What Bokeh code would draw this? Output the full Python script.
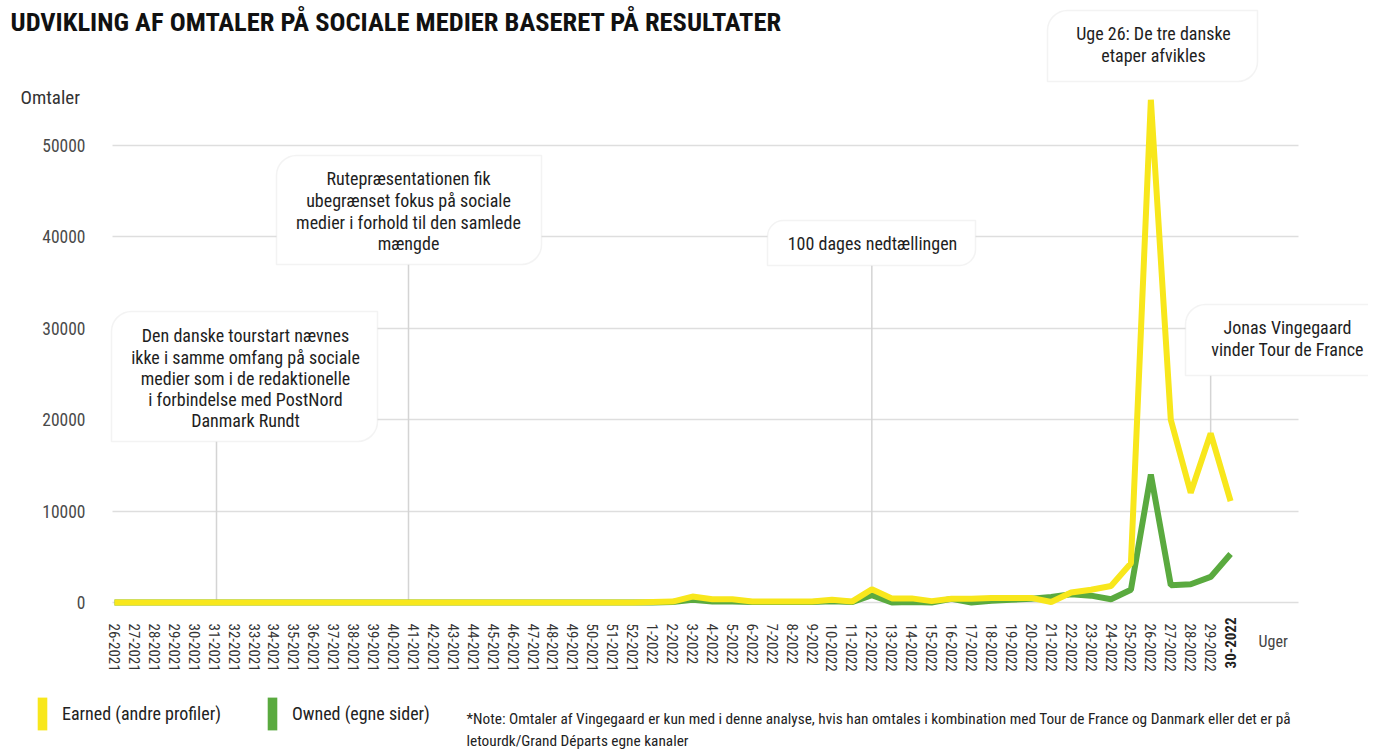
import math
from bokeh.plotting import figure
from bokeh.models import (FixedTicker, BoxAnnotation, Label, Legend, LegendItem, Range1d,
                          ColumnDataSource)
from bokeh.embed import file_html
from bokeh.resources import INLINE

# ---------------- data ----------------
weeks = ["26-2021", "27-2021", "28-2021", "29-2021", "30-2021", "31-2021", "32-2021",
         "33-2021", "34-2021", "35-2021", "36-2021", "37-2021", "38-2021", "39-2021",
         "40-2021", "41-2021", "42-2021", "43-2021", "44-2021", "45-2021", "46-2021",
         "47-2021", "48-2021", "49-2021", "50-2021", "51-2021", "52-2021",
         "1-2022", "2-2022", "3-2022", "4-2022", "5-2022", "6-2022", "7-2022", "8-2022",
         "9-2022", "10-2022", "11-2022", "12-2022", "13-2022", "14-2022", "15-2022",
         "16-2022", "17-2022", "18-2022", "19-2022", "20-2022", "21-2022", "22-2022",
         "23-2022", "24-2022", "25-2022", "26-2022", "27-2022", "28-2022", "29-2022",
         "30-2022"]

earned = [0, 0, 0, 0, 0, 0, 0, 0, 0, 0, 0, 0, 0, 0, 0, 0, 0, 0, 0, 0, 0, 0, 0, 0, 0, 0, 0,
          50, 100, 650, 350, 350, 100, 100, 100, 100, 300, 100, 1450, 450, 450, 150,
          400, 400, 500, 500, 500, 50, 1100, 1400, 1800, 4300, 55000, 20000, 12000,
          18500, 11100]

owned = [0, 0, 0, 0, 0, 0, 0, 0, 0, 0, 0, 0, 0, 0, 0, 0, 0, 0, 0, 0, 0, 0, 0, 0, 0, 0, 0,
         0, 50, 300, 100, 100, 50, 50, 50, 50, 150, 50, 800, 0, 50, 0,
         400, 0, 200, 300, 400, 600, 900, 750, 350, 1400, 14000, 1900, 2000,
         2800, 5300]

y_ticks = [0, 10000, 20000, 30000, 40000, 50000]

series_names = ["Earned (andre profiler)", "Owned (egne sider)"]
title_text = "UDVIKLING AF OMTALER PÅ SOCIALE MEDIER BASERET PÅ RESULTATER"
y_title = "Omtaler"
x_title = "Uger"
note_lines = ["*Note: Omtaler af Vingegaard er kun med i denne analyse, hvis han omtales i kombination med Tour de France og Danmark eller det er på",
              "letourdk/Grand Départs egne kanaler"]

callouts = [
    # (text lines, week the pointer refers to or None)
    (["Den danske tourstart nævnes", "ikke i samme omfang på sociale",
      "medier som i de redaktionelle", "i forbindelse med PostNord", "Danmark Rundt"], "31-2021"),
    (["Rutepræsentationen fik", "ubegrænset fokus på sociale",
      "medier i forhold til den samlede", "mængde"], "41-2021"),
    (["100 dages nedtællingen"], "12-2022"),
    (["Uge 26: De tre danske", "etaper afvikles"], None),
    (["Jonas Vingegaard", "vinder Tour de France"], "29-2022"),
]

# ---------------- styling / layout ----------------
YELLOW = "#f8e71c"
GREEN = "#5aaa3f"
FONT = "Liberation Sans Narrow, Roboto Condensed, Roboto"
TXT = "#1e1e1e"

W, H = 1368, 749
PX_PER_CAT = 19.93
X0_PX = 114.0          # canvas px of first week
PX_PER_Y = 457.0 / 50000.0
ZERO_PX = 602.0        # canvas px of y = 0

def X(px):   # canvas px -> data x
    return (px - X0_PX) / PX_PER_CAT

def Y(py):   # canvas px -> data y
    return (ZERO_PX - py) / PX_PER_Y

p = figure(width=W, height=H, output_backend="svg", toolbar_location=None,
           x_range=Range1d(X(0), X(W)), y_range=Range1d(Y(H), Y(0)),
           min_border_left=0, min_border_right=0, min_border_top=0, min_border_bottom=0)
p.outline_line_color = None
p.background_fill_color = "white"
p.border_fill_color = "white"

# axes (drawn inside the canvas with negative standoff)
xi = list(range(len(weeks)))
last = len(weeks) - 1
p.xaxis.ticker = FixedTicker(ticks=xi)
p.xaxis.major_label_overrides = {i: (w if i != last else "") for i, w in zip(xi, weeks)}
p.xaxis.major_label_orientation = "vertical"
p.xaxis.major_label_text_font = FONT
p.xaxis.major_label_text_font_size = "15px"
p.xaxis.major_label_text_color = "#333333"
p.xaxis.major_label_standoff = int(617 - H)
p.xaxis.axis_line_color = None
p.xaxis.major_tick_line_color = None
p.xaxis.minor_tick_line_color = None
# the last week label is bold in the original
p.add_layout(Label(x=last, y=Y(617), text=weeks[last], angle=math.pi / 2,
                   text_align="right", text_baseline="middle", text_font=FONT,
                   text_font_style="bold", text_font_size="15px", text_color="#222222"))

p.yaxis.ticker = FixedTicker(ticks=y_ticks)
p.yaxis.major_label_text_font = FONT
p.yaxis.major_label_text_font_size = "17.5px"
p.yaxis.major_label_text_color = "#4a4a4a"
p.yaxis.major_label_standoff = -91
p.yaxis.axis_line_color = None
p.yaxis.major_tick_line_color = None
p.yaxis.minor_tick_line_color = None

p.xgrid.grid_line_color = None
grid = p.ygrid[0]
grid.grid_line_color = "#dedede"
grid.grid_line_width = 1.5
try:
    grid.cross_bounds = (X(112), X(1298))
except Exception:
    pass

# callout pointers (behind data)
boxes_px = [  # canvas px boxes: left, right, top, bottom
    (111, 377, 311, 441),
    (276, 541, 155, 264),
    (767, 975, 220, 265),
    (1047, 1257, 10, 81),
    (1185, 1400, 304, 375),
]
pointer_px = {0: 216, 1: 408}
pt_x0, pt_y0, pt_x1, pt_y1 = [], [], [], []
for k, (lines, wk) in enumerate(callouts):
    if wk is None:
        continue
    l, r, t, b = boxes_px[k]
    i = weeks.index(wk)
    if k in pointer_px:
        xx, ytarget = X(pointer_px[k]), 0
    else:
        xx, ytarget = i, earned[i]
    pt_x0.append(xx); pt_x1.append(xx)
    pt_y0.append(Y(b)); pt_y1.append(ytarget)
p.segment(x0=pt_x0, y0=pt_y0, x1=pt_x1, y1=pt_y1, line_color="#d4d4d4", line_width=1.5)

# data lines
src = ColumnDataSource(dict(x=xi, earned=earned, owned=owned))
p.line("x", "owned", source=src, line_color=GREEN, line_width=6, line_join="bevel")
p.line("x", "earned", source=src, line_color=YELLOW, line_width=6, line_join="bevel")

# callout boxes and texts
text_centers = [(245, [335, 357, 378, 399, 420]),
                (408, [178, 200, 222, 243]),
                (872, [243]),
                (1153, [33, 55]),
                (1287, [327, 349])]
for k, (lines, wk) in enumerate(callouts):
    l, r, t, b = boxes_px[k]
    rad = 20 if (b - t) > 60 else 16
    p.add_layout(BoxAnnotation(left=X(l), right=X(r), top=Y(t), bottom=Y(b),
                               fill_color="white", fill_alpha=1.0,
                               line_color="#d6d6d6", line_width=1.5,
                               border_radius=dict(top_left=rad, top_right=0,
                                                  bottom_right=rad, bottom_left=0),
                               level="overlay"))
    cx, ys = text_centers[k]
    for line, yy in zip(lines, ys):
        p.add_layout(Label(x=X(cx), y=Y(yy), text=line, text_align="center",
                           text_baseline="middle", text_font=FONT,
                           text_font_size="18px", text_color=TXT, level="overlay"))

# title, axis titles, note
p.add_layout(Label(x=X(10), y=Y(21), text=title_text, text_align="left",
                   text_baseline="middle", text_font=FONT, text_font_style="bold",
                   text_font_size="26.5px", text_color="#111111"))
p.add_layout(Label(x=X(20), y=Y(97), text=y_title, text_align="left",
                   text_baseline="middle", text_font=FONT,
                   text_font_size="19px", text_color="#333333"))
p.add_layout(Label(x=X(1258), y=Y(641), text=x_title, text_align="left",
                   text_baseline="middle", text_font=FONT,
                   text_font_size="16px", text_color="#444444"))
for line, yy in zip(note_lines, [718, 740]):
    p.add_layout(Label(x=X(466), y=Y(yy), text=line, text_align="left",
                       text_baseline="middle", text_font=FONT,
                       text_font_size="15.3px", text_color="#222222"))

# legend with vertical colour bars (proxy renderers kept outside the visible range)
leg_src = ColumnDataSource(dict(x=[X(-1000)], y=[Y(-1000)]))
r_leg_e = p.rect("x", "y", source=leg_src, width=1, height=1, fill_color=YELLOW, line_color=None)
r_leg_o = p.rect("x", "y", source=leg_src, width=1, height=1, fill_color=GREEN, line_color=None)
legend = Legend(items=[LegendItem(label=series_names[0], renderers=[r_leg_e]),
                       LegendItem(label=series_names[1], renderers=[r_leg_o])],
                orientation="horizontal", location=(36, H - 734),
                glyph_width=12, glyph_height=41, label_standoff=14, spacing=45,
                padding=0, margin=0, border_line_color=None, background_fill_alpha=0,
                label_text_font=FONT, label_text_font_size="18px", label_text_color="#222222")
p.add_layout(legend, "center")

open("out.html", "w").write(file_html(p, INLINE))
